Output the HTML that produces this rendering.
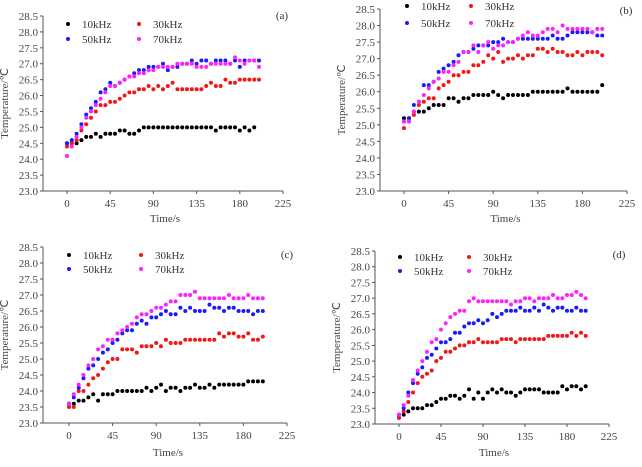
<!DOCTYPE html>
<html><head><meta charset="utf-8"><style>
html,body{margin:0;padding:0;background:#fff;}
svg{display:block;font-family:"Liberation Serif",serif;}
</style></head><body>
<svg id="s" width="642" height="467" viewBox="0 0 642 467" xmlns="http://www.w3.org/2000/svg"></svg>
<script>
var P=[
{ax:43,y285:16,y230:191,x0:67,x225:283,tl:222,lx:[68,139],ly:[24,39],lab:"(a)",labx:282,laby:19,
d:[[24.5,24.5,24.5,24.6,24.7,24.7,24.8,24.7,24.8,24.8,24.8,24.9,24.9,24.8,24.8,24.9,25,25,25,25,25,25,25,25,25,25,25,25,25,25,25,24.9,25,25,25,25,24.9,25,24.9,25],
[24.4,24.5,24.6,24.9,25.1,25.3,25.5,25.7,25.7,25.8,25.8,25.9,26.0,26.1,26.1,26.2,26.2,26.3,26.2,26.3,26.2,26.3,26.4,26.2,26.2,26.2,26.2,26.2,26.2,26.3,26.4,26.3,26.3,26.5,26.4,26.4,26.5,26.5,26.5,26.5,26.5],
[24.5,24.6,24.8,25.1,25.4,25.6,25.8,26.1,26.2,26.4,26.3,26.4,26.5,26.6,26.7,26.8,26.8,26.9,26.9,26.9,27.0,26.8,26.9,26.9,27.0,27.0,27.1,27.0,27.1,27.1,27.0,27.1,27.1,27.1,27.0,27.1,26.9,27.1,27.1,27.1,27.1],
[24.1,24.4,24.7,25.0,25.3,25.5,25.7,25.9,26.1,26.3,26.3,26.4,26.5,26.6,26.6,26.7,26.7,26.8,26.8,26.9,26.9,26.9,26.9,27.0,27.0,27.0,27.0,26.9,26.9,26.9,27.0,27.0,27.0,27.0,27.0,27.2,27.1,27.0,27.1,27.1,26.9]]},
{ax:380,y285:9,y230:191,x0:404,x225:627,tl:222,lx:[407,471],ly:[6,23],lab:"(b)",labx:626,laby:14,
d:[[25.2,25.2,25.4,25.4,25.4,25.5,25.6,25.6,25.6,25.8,25.8,25.7,25.8,25.8,25.9,25.9,25.9,25.9,26.0,25.9,25.8,25.9,25.9,25.9,25.9,25.9,26.0,26.0,26.0,26.0,26.0,26.0,26.0,26.1,26.0,26.0,26.0,26.0,26.0,26.0,26.2],
[24.9,25.1,25.3,25.6,25.7,25.8,25.8,26.1,26.2,26.3,26.5,26.5,26.6,26.6,26.8,26.8,26.9,27.1,27.0,27.2,26.9,27.0,27.0,27.1,27.0,27.1,27.1,27.3,27.3,27.2,27.3,27.2,27.2,27.1,27.1,27.2,27.1,27.2,27.2,27.2,27.1],
[25.1,25.2,25.6,25.7,26.2,26.2,26.3,26.6,26.7,26.8,26.9,27.1,27.2,27.2,27.3,27.4,27.4,27.4,27.5,27.5,27.6,27.5,27.5,27.6,27.6,27.6,27.6,27.6,27.6,27.6,27.7,27.6,27.6,27.7,27.8,27.8,27.8,27.8,27.8,27.7,27.7],
[25.1,25.1,25.4,25.7,25.9,26.1,26.3,26.4,26.6,26.6,26.8,26.9,27.2,27.2,27.4,27.2,27.4,27.5,27.3,27.4,27.4,27.5,27.5,27.6,27.7,27.8,27.7,27.7,27.8,27.9,27.9,27.8,28.0,27.9,27.9,27.9,27.9,27.9,27.8,27.9,27.9]]},
{ax:43,y285:247,y230:423,x0:69,x225:287,tl:456,lx:[69,141],ly:[255,269],lab:"(c)",labx:287,laby:258,
d:[[23.6,23.6,23.7,23.7,23.8,23.9,23.7,23.9,23.9,23.9,24.0,24.0,24.0,24.0,24.0,24.0,24.1,24.0,24.1,24.2,24.0,24.1,24.1,24.0,24.1,24.1,24.2,24.1,24.1,24.2,24.1,24.2,24.2,24.2,24.2,24.2,24.2,24.3,24.3,24.3,24.3],
[23.5,23.5,24.0,24.0,24.2,24.4,24.5,24.7,24.9,25.0,25.0,25.3,25.3,25.3,25.2,25.4,25.4,25.4,25.5,25.4,25.6,25.5,25.5,25.5,25.6,25.6,25.6,25.6,25.6,25.6,25.6,25.8,25.7,25.8,25.8,25.7,25.7,25.8,25.6,25.6,25.7],
[23.6,23.8,24.1,24.4,24.7,24.8,25.0,25.2,25.3,25.5,25.6,25.8,25.9,25.9,26.1,26.2,26.1,26.3,26.3,26.4,26.5,26.4,26.4,26.6,26.5,26.6,26.5,26.5,26.5,26.7,26.6,26.6,26.5,26.6,26.6,26.5,26.5,26.5,26.4,26.5,26.5],
[23.6,23.9,24.2,24.5,24.8,25.0,25.3,25.4,25.6,25.6,25.8,25.9,26.0,26.1,26.3,26.4,26.4,26.5,26.6,26.6,26.7,26.8,26.8,27.0,27.0,27.0,27.1,26.9,26.9,26.9,26.9,26.9,26.9,27.0,26.9,26.9,26.9,27.0,26.9,26.9,26.9]]},
{ax:375,y285:251,y230:424,x0:399,x225:609,tl:456,lx:[400,469],ly:[257,271],lab:"(d)",labx:619,laby:258,
d:[[23.2,23.3,23.4,23.5,23.5,23.5,23.6,23.6,23.7,23.8,23.8,23.9,23.9,23.8,23.9,24.1,23.8,24.0,23.8,24.0,24.1,24.0,24.1,24.0,24.0,23.9,24.0,24.1,24.1,24.1,24.1,24.0,24.0,24.0,24.0,24.2,24.1,24.2,24.2,24.1,24.2],
[23.2,23.4,23.7,24.0,24.3,24.5,24.6,24.7,25.0,25.1,25.3,25.3,25.4,25.5,25.5,25.6,25.6,25.7,25.6,25.6,25.6,25.6,25.7,25.7,25.7,25.6,25.7,25.7,25.7,25.7,25.7,25.7,25.8,25.8,25.8,25.8,25.8,25.9,25.8,25.9,25.8],
[23.3,23.5,24.0,24.3,24.6,24.8,25.1,25.2,25.4,25.6,25.6,25.7,25.9,25.9,26.1,26.2,26.2,26.3,26.2,26.3,26.5,26.4,26.5,26.6,26.6,26.6,26.7,26.6,26.6,26.7,26.6,26.8,26.7,26.6,26.7,26.7,26.6,26.6,26.7,26.6,26.6],
[23.3,23.6,23.9,24.4,24.7,25.0,25.3,25.6,25.7,26.0,26.2,26.4,26.5,26.6,26.6,26.9,27.0,26.9,26.9,26.9,26.9,26.9,26.9,26.9,26.8,26.9,26.9,27.0,27.0,26.9,27.0,27.0,27.0,27.1,27.0,27.0,27.1,27.1,27.2,27.1,27.0]]}
];
var C=["#000","#f21818","#1a1aff","#ff22ff"],N=["10kHz","30kHz","50kHz","70kHz"];
var h="",g="#555";
P.forEach(function(p){
 var ys=function(v){return p.y230-(v-23)/5.5*(p.y230-p.y285);};
 var xs=function(t){return p.x0+t/225*(p.x225-p.x0);};
 var xe=p.x225;
 h+='<line x1="'+p.ax+'" y1="'+p.y285+'" x2="'+p.ax+'" y2="'+p.y230+'" stroke="'+g+'" stroke-width="1"/>';
 h+='<line x1="'+p.ax+'" y1="'+p.y230+'" x2="'+xe+'" y2="'+p.y230+'" stroke="'+g+'" stroke-width="1"/>';
 for(var i=0;i<=11;i++){var v=23+i*0.5,y=ys(v);
  h+='<line x1="'+(p.ax-3)+'" y1="'+y+'" x2="'+p.ax+'" y2="'+y+'" stroke="'+g+'"/>';
  h+='<text x="'+(p.ax-5)+'" y="'+(y+4)+'" font-size="11" fill="#444" text-anchor="end">'+v.toFixed(1)+'</text>';}
 for(var t=0;t<=225;t+=45){var x=xs(t);
  h+='<line x1="'+x+'" y1="'+p.y230+'" x2="'+x+'" y2="'+(p.y230+3)+'" stroke="'+g+'"/>';
  h+='<text x="'+x+'" y="'+(p.y230+16)+'" font-size="11" fill="#444" text-anchor="middle">'+t+'</text>';}
 var my=(p.y285+p.y230)/2;
 h+='<text transform="translate('+(p.ax-35)+','+my+') rotate(-90)" font-size="11" fill="#444" text-anchor="middle">Temperature/℃</text>';
 h+='<text x="'+(xs(112.5)-10)+'" y="'+p.tl+'" font-size="11" fill="#444" text-anchor="middle">Time/s</text>';
 h+='<text x="'+p.labx+'" y="'+p.laby+'" font-size="11" fill="#333" text-anchor="middle">'+p.lab+'</text>';
 for(var k=0;k<4;k++){var lx=p.lx[k%2],ly=p.ly[k>>1];
  h+='<circle cx="'+lx+'" cy="'+ly+'" r="2" fill="'+C[k]+'"/>';
  h+='<text x="'+(lx+14)+'" y="'+(ly+4)+'" font-size="11" fill="#333">'+N[k]+'</text>';}
 for(var k=0;k<4;k++){p.d[k].forEach(function(v,i){
  h+='<circle cx="'+xs(i*5).toFixed(1)+'" cy="'+ys(v).toFixed(1)+'" r="2" fill="'+C[k]+'"/>';});}
});
document.getElementById("s").innerHTML=h;
</script>
</body></html>
